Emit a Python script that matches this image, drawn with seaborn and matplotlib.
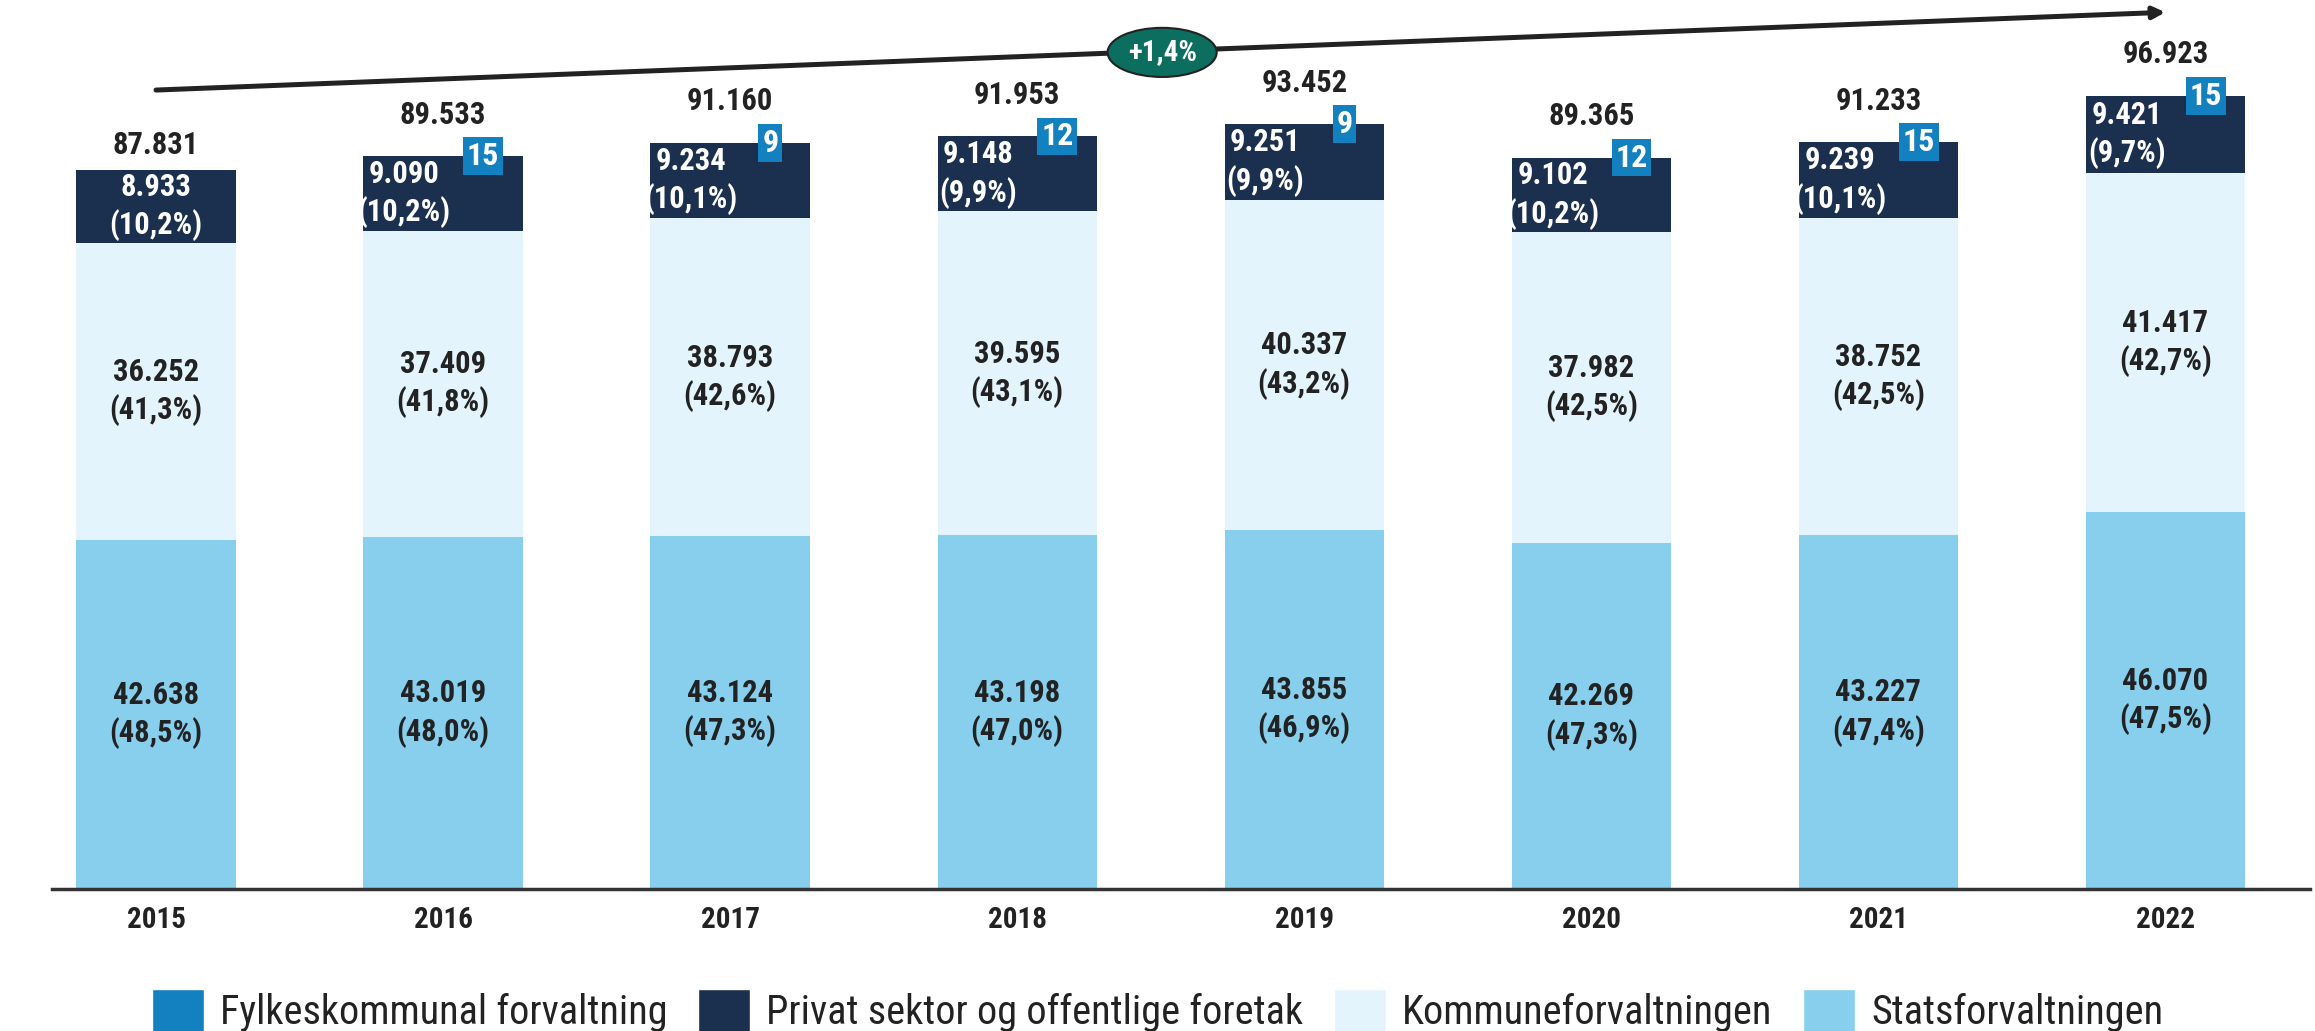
"""
Sysselsatte etter sektor 2015-2022 — stablet søylediagram.
"""
import numpy as np
import pandas as pd
import matplotlib
matplotlib.use("Agg")
import matplotlib.pyplot as plt
from matplotlib.patches import Patch, Ellipse
import seaborn as sns

years = ["2015", "2016", "2017", "2018", "2019", "2020", "2021", "2022"]
stats = [42638, 43019, 43124, 43198, 43855, 42269, 43227, 46070]
kommune = [36252, 37409, 38793, 39595, 40337, 37982, 38752, 41417]
privat = [8933, 9090, 9234, 9148, 9251, 9102, 9239, 9421]
fylke = [None, 15, 9, 12, 9, 12, 15, 15]
totals = [87831, 89533, 91160, 91953, 93452, 89365, 91233, 96923]
stats_pct = ["48,5", "48,0", "47,3", "47,0", "46,9", "47,3", "47,4", "47,5"]
kommune_pct = ["41,3", "41,8", "42,6", "43,1", "43,2", "42,5", "42,5", "42,7"]
privat_pct = ["10,2", "10,2", "10,1", "9,9", "9,9", "10,2", "10,1", "9,7"]
growth_label = "+1,4%"

C_STATS = "#87CFED"
C_KOMM = "#E3F4FC"
C_PRIV = "#1B2F4E"
C_FYLKE = "#1380C0"
C_TEAL = "#0B6E5F"
TXT = "#222222"

FONT = ["Roboto Condensed", "DejaVu Sans"]


def fmt(v):
    return f"{v:,}".replace(",", ".")


def main():
    sns.set_style("white")
    plt.rcParams["font.family"] = FONT

    df = pd.DataFrame({
        "year": years,
        "stats": stats,
        "kommune": kommune,
        "privat": privat,
    })
    df["cum_komm"] = df["stats"] + df["kommune"]
    df["cum_priv"] = df["cum_komm"] + df["privat"]

    fig = plt.figure(figsize=(23.15, 10.31), dpi=100)
    ax = fig.add_axes([0.0225, 0.1377, 0.9755, 0.8623])

    bw = 0.555
    for col, color in [("cum_priv", C_PRIV), ("cum_komm", C_KOMM), ("stats", C_STATS)]:
        sns.barplot(data=df, x="year", y=col, color=color, width=bw,
                    saturation=1, linewidth=0, ax=ax)

    ax.set_xlim(-0.362, 7.505)
    ax.set_ylim(0, 108600)
    ax.set_xlabel("")
    ax.set_ylabel("")
    ax.set_yticks([])
    for s in ["top", "left", "right"]:
        ax.spines[s].set_visible(False)
    ax.spines["bottom"].set_color("#333333")
    ax.spines["bottom"].set_linewidth(2.5)
    ax.tick_params(axis="x", length=0, pad=12)
    for lab in ax.get_xticklabels():
        lab.set_fontsize(21)
        lab.set_fontweight("bold")
        lab.set_color(TXT)

    lab_kw = dict(ha="center", va="center", fontsize=22, fontweight="bold",
                  linespacing=1.3)
    for i in range(len(years)):
        # state segment
        ax.text(i, stats[i] / 2, f"{fmt(stats[i])}\n({stats_pct[i]}%)",
                color=TXT, **lab_kw)
        # municipal segment
        ax.text(i, stats[i] + kommune[i] / 2,
                f"{fmt(kommune[i])}\n({kommune_pct[i]}%)", color=TXT, **lab_kw)
        # private segment, shifted left when a county box sits on top
        top = df["cum_priv"][i]
        dx = 0 if fylke[i] is None else -0.135
        ax.text(i + dx, top - privat[i] / 2,
                f"{fmt(privat[i])}\n({privat_pct[i]}%)", color="white", **lab_kw)
        # county box + total label
        if fylke[i] is None:
            off = 7
        else:
            ax.text(i + 0.14, top, str(fylke[i]), ha="center", va="center",
                    fontsize=23, fontweight="bold", color="white",
                    bbox=dict(boxstyle="square,pad=0.12", fc=C_FYLKE, ec="none"))
            off = 19
        ax.annotate(fmt(totals[i]), (i, top), xytext=(0, off),
                    textcoords="offset points", ha="center", va="bottom",
                    fontsize=22, fontweight="bold", color=TXT)

    # trend arrow with growth badge
    ax.annotate("", xy=(7.0, 107100), xytext=(0.0, 97600),
                arrowprops=dict(arrowstyle="-|>,head_length=0.7,head_width=0.35",
                                color="#222222", lw=3.6, shrinkA=0, shrinkB=0),
                annotation_clip=False)
    ax.add_patch(Ellipse((3.505, 102200), width=0.38, height=6000,
                         fc=C_TEAL, ec="#222222", lw=1.5, zorder=5, clip_on=False))
    ax.text(3.505, 102200, growth_label, ha="center", va="center", fontsize=21,
            fontweight="bold", color="white", zorder=6)

    handles = [Patch(facecolor=C_FYLKE), Patch(facecolor=C_PRIV),
               Patch(facecolor=C_KOMM), Patch(facecolor=C_STATS)]
    labels = ["Fylkeskommunal forvaltning", "Privat sektor og offentlige foretak",
              "Kommuneforvaltningen", "Statsforvaltningen"]
    leg = fig.legend(handles, labels, loc="center", bbox_to_anchor=(0.5, 0.02),
                     ncol=4, frameon=False, fontsize=29, handlelength=1.3,
                     handleheight=1.25, handletextpad=0.4, columnspacing=0.75,
                     borderpad=0)
    for t in leg.get_texts():
        t.set_color(TXT)

    fig.savefig("out.png", dpi=100)
    plt.close(fig)


if __name__ == "__main__":
    main()
